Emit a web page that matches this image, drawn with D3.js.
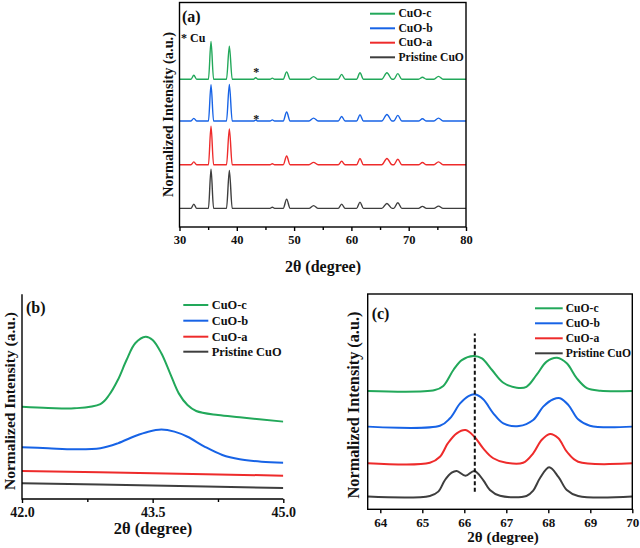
<!DOCTYPE html>
<html><head><meta charset="utf-8">
<script src="https://cdn.jsdelivr.net/npm/d3@7"></script>
<style>
html,body{margin:0;padding:0;background:#fff;}
</style></head>
<body><svg id="chart" width="640" height="548"></svg>
<script>
// ---------- DATA ----------
const seriesNames = ["CuO-c", "CuO-b", "CuO-a", "Pristine CuO"];
const seriesColors = ["#22a85a", "#1763e6", "#ee2b2b", "#3e3e3e"];

// Panel (a): full XRD patterns, peak table
const xrdPeakPos = [32.5, 35.5, 38.7, 43.3, 46.2, 48.7, 53.4, 58.3, 61.5, 66.2, 68.1, 72.4, 75.2];
const xrdHalfWidth = [0.5, 0.45, 0.5, 0.4, 0.4, 0.6, 0.8, 0.6, 0.6, 0.9, 0.7, 0.7, 0.8];
const xrdBaseline = [65.8, 47.2, 27.7, 8.3];             // c, b, a, pristine
const xrdHeightsC = [1.8, 16.8, 14.7, 0.7, 0.5, 3.3, 1.2, 2.2, 2.9, 2.9, 2.5, 0.9, 1.3];
const xrdHeightsB = [1.2, 16.2, 16.3, 0.4, 0.5, 4.0, 1.3, 2.0, 2.8, 2.9, 2.5, 1.0, 1.3];
const xrdHeightsA = [1.3, 17.2, 16.0, 0.0, 0.5, 3.9, 1.1, 1.6, 2.8, 2.8, 2.5, 1.0, 1.3];
const xrdHeightsP = [1.9, 17.5, 16.9, 0.0, 0.5, 4.1, 1.2, 1.9, 2.8, 2.2, 2.5, 0.9, 1.0];
const xrdTicks = [30, 40, 50, 60, 70, 80];
const xrdMinorTicks = [35, 45, 55, 65, 75];
const cuStars = [[43.4, 70.2], [43.4, 49.5]];

// Panel (b): 42-45 degree zoom (Cu peak)
const bC = [[42.0,45.1],[42.3,44.5],[42.6,44.3],[42.9,46.4],[43.0,50.8],[43.1,58.1],[43.2,67.9],[43.3,76.1],[43.42,79.3],[43.5,77.7],[43.6,71.2],[43.7,61.4],[43.8,51.6],[43.9,45.9],[44.0,43.0],[44.25,41.0],[44.5,39.9],[45.0,37.8]];
const bB = [[42.0,25.3],[42.3,24.8],[42.6,24.3],[42.9,24.8],[43.1,27.2],[43.3,30.8],[43.45,32.9],[43.6,33.9],[43.75,32.9],[43.9,30.4],[44.1,25.5],[44.3,21.5],[44.5,19.4],[44.75,18.2],[45.0,17.7]];
const bA = [[42.0,13.7],[43.5,12.6],[45.0,11.4]];
const bP = [[42.0,7.7],[43.5,6.6],[45.0,5.4]];
const bTicks = [42.0, 43.5, 45.0];
const bTickLabels = ["42.0", "43.5", "45.0"];
const bMinorTicks = [42.75, 44.25];

// Panel (c): 63.7-70 degree zoom
const cC = [[63.7,55.0],[65.3,55.4],[65.5,57.3],[65.74,64.7],[65.94,69.3],[66.22,71.2],[66.42,70.1],[66.66,64.7],[66.93,58.8],[67.25,56.5],[67.48,56.9],[67.72,62.4],[67.96,68.6],[68.21,70.4],[68.44,67.8],[68.68,60.8],[68.92,56.3],[69.24,55.1],[70.0,55.0]];
const cB = [[63.7,38.4],[65.42,38.8],[65.66,42.3],[65.9,49.2],[66.1,52.6],[66.25,53.4],[66.45,51.1],[66.69,44.6],[66.93,39.9],[67.3,38.7],[67.64,41.5],[67.88,47.7],[68.12,51.1],[68.28,51.6],[68.48,48.4],[68.71,41.8],[68.99,38.8],[70.0,38.4]];
const cA = [[63.7,21.4],[65.18,21.6],[65.42,24.4],[65.61,30.7],[65.82,35.3],[66.03,36.8],[66.24,33.7],[66.45,28.3],[66.69,23.7],[67.0,21.6],[67.4,21.6],[67.64,26.0],[67.84,32.2],[68.04,35.0],[68.24,33.0],[68.44,26.8],[68.71,22.1],[70.0,21.4]];
const cP = [[63.7,5.9],[65.18,6.2],[65.38,8.2],[65.54,13.6],[65.7,17.0],[65.82,17.8],[66.03,15.6],[66.24,17.8],[66.45,13.6],[66.61,9.0],[66.85,6.3],[67.48,6.2],[67.64,8.7],[67.8,14.4],[68.02,19.5],[68.24,15.1],[68.44,9.0],[68.71,6.2],[70.0,5.9]];
const cTicks = [64, 65, 66, 67, 68, 69, 70];
const cDashX = 66.25;
const cDashY = [8.2, 81.7];

// ---------- DRAW ----------
const FONT = "'Liberation Serif', 'Times New Roman', Times, serif";
const svg = d3.select("#chart");
const AXW = 1.4;

function buildXrd(base, heights) {
  const pts = [[30, base]];
  xrdPeakPos.forEach((p, i) => {
    if (heights[i] <= 0) return;
    pts.push([p - xrdHalfWidth[i], base], [p, base + heights[i]], [p + xrdHalfWidth[i], base]);
  });
  pts.push([80, base]);
  return pts;
}

function txt(parent) {
  return parent.append("text").attr("font-family", FONT).attr("font-weight", "bold").attr("fill", "#111");
}

function fitText(sel, target) {
  const n = sel.node();
  const fs = parseFloat(sel.attr("font-size"));
  const len = n.getComputedTextLength();
  if (len > 0) sel.attr("font-size", (fs * target / len).toFixed(2));
}

function drawPanel(cfg) {
  const g = svg.append("g");
  const x = d3.scaleLinear().domain(cfg.xd).range([cfg.l, cfg.r]);
  const y = d3.scaleLinear().domain([0, 100]).range([cfg.b, cfg.t]);
  const line = d3.line().x(d => x(d[0])).y(d => y(d[1])).curve(cfg.curve);

  const cid = "clip" + cfg.id;
  svg.append("clipPath").attr("id", cid).append("rect")
    .attr("x", cfg.l).attr("y", cfg.t).attr("width", cfg.r - cfg.l).attr("height", cfg.b - cfg.t);

  const lg = g.append("g").attr("clip-path", `url(#${cid})`);
  cfg.series.forEach((s, i) => {
    lg.append("path").datum(s).attr("d", line).attr("fill", "none")
      .attr("stroke", seriesColors[i]).attr("stroke-width", cfg.lw).attr("stroke-linejoin", "round");
  });

  const xAxis = d3.axisBottom(x).tickValues(cfg.ticks).tickSize(4).tickPadding(4)
    .tickFormat((d, i) => cfg.tickLabels ? cfg.tickLabels[i] : d);
  const ax = g.append("g").attr("transform", `translate(0,${cfg.b})`).call(xAxis);
  ax.attr("font-family", FONT);
  ax.select(".domain").remove();
  ax.selectAll(".tick line").attr("stroke", "#000").attr("stroke-width", AXW);
  ax.selectAll(".tick text").attr("font-size", cfg.tickFs).attr("fill", "#111")
    .attr("font-family", FONT).attr("font-weight", "bold");
  if (cfg.minor) {
    const mx = d3.axisBottom(x).tickValues(cfg.minor).tickSize(3).tickFormat("");
    const mg = g.append("g").attr("transform", `translate(0,${cfg.b})`).call(mx);
    mg.select(".domain").remove();
    mg.selectAll(".tick line").attr("stroke", "#000").attr("stroke-width", AXW);
  }
  if (cfg.box) {
    g.append("rect").attr("x", cfg.l).attr("y", cfg.t).attr("width", cfg.r - cfg.l).attr("height", cfg.b - cfg.t)
      .attr("fill", "none").attr("stroke", "#000").attr("stroke-width", AXW);
  } else {
    g.append("path").attr("d", `M${cfg.l},${cfg.t}V${cfg.b}H${cfg.r}`)
      .attr("fill", "none").attr("stroke", "#000").attr("stroke-width", AXW);
  }

  txt(g).attr("x", cfg.xtX).attr("y", cfg.xtY).attr("text-anchor", "middle")
    .attr("dominant-baseline", "central").attr("font-size", cfg.xtFs).text("2θ (degree)");
  const yt = txt(g).attr("transform", `translate(${cfg.ytX},${cfg.ytY}) rotate(-90)`)
    .attr("text-anchor", "middle").attr("dominant-baseline", "central").attr("font-size", 15)
    .text("Normalized Intensity (a.u.)");
  fitText(yt, cfg.ytLen);

  txt(g).attr("x", cfg.pl[0]).attr("y", cfg.pl[1]).attr("dominant-baseline", "central")
    .attr("font-size", 16).text(cfg.label);

  seriesNames.forEach((nm, i) => {
    const yy = cfg.leg.rows[i];
    g.append("line").attr("x1", cfg.leg.x1).attr("x2", cfg.leg.x2).attr("y1", yy).attr("y2", yy)
      .attr("stroke", seriesColors[i]).attr("stroke-width", 2);
    txt(g).attr("x", cfg.leg.tx).attr("y", yy).attr("dominant-baseline", "central")
      .attr("font-size", cfg.leg.fs).text(nm);
  });
  return { g, x, y };
}

// Panel (a)
const pa = drawPanel({
  id: "a", xd: [30, 80], l: 179.5, r: 466, t: 2.5, b: 227, lw: 1.4, box: true, curve: d3.curveMonotoneX,
  series: [buildXrd(xrdBaseline[0], xrdHeightsC), buildXrd(xrdBaseline[1], xrdHeightsB),
           buildXrd(xrdBaseline[2], xrdHeightsA), buildXrd(xrdBaseline[3], xrdHeightsP)],
  ticks: xrdTicks, minor: xrdMinorTicks, tickFs: 12.5,
  xtX: 323, xtY: 266, xtFs: 16, ytX: 167.5, ytY: 114.5, ytLen: 165,
  pl: [182, 16], label: "(a)",
  leg: { x1: 370, x2: 395, tx: 398.5, rows: [13.7, 28.3, 42.7, 57.3], fs: 11.6 }
});
txt(pa.g).attr("x", 181).attr("y", 38).attr("dominant-baseline", "central")
  .attr("font-size", 12).text("* Cu");
cuStars.forEach(d => {
  txt(pa.g).attr("x", pa.x(d[0])).attr("y", pa.y(d[1])).attr("dy", 7)
    .attr("text-anchor", "middle").attr("font-size", 12).text("*");
});

// Panel (b)
drawPanel({
  id: "b", xd: [42, 45], l: 22, r: 283.3, t: 294.3, b: 499, lw: 2, box: false, curve: d3.curveCatmullRom.alpha(0.5),
  series: [bC, bB, bA, bP],
  ticks: bTicks, tickLabels: bTickLabels, minor: bMinorTicks, tickFs: 14,
  xtX: 153, xtY: 528, xtFs: 16.5, ytX: 9, ytY: 401, ytLen: 178,
  pl: [26, 307], label: "(b)",
  leg: { x1: 183.3, x2: 208.3, tx: 211.7, rows: [305, 320.7, 336.7, 351.7], fs: 12.4 }
});

// Panel (c)
const pc = drawPanel({
  id: "c", xd: [63.7, 70], l: 367.7, r: 632.3, t: 294, b: 509.3, lw: 2, box: true, curve: d3.curveCatmullRom.alpha(0.5),
  series: [cC, cB, cA, cP],
  ticks: cTicks, tickFs: 13,
  xtX: 503, xtY: 537, xtFs: 15, ytX: 353.5, ytY: 405, ytLen: 187,
  pl: [371.7, 313.3], label: "(c)",
  leg: { x1: 535, x2: 562.7, tx: 565.7, rows: [308.3, 323.3, 338.3, 353.3], fs: 11.6 }
});
pc.g.append("line").attr("x1", pc.x(cDashX)).attr("x2", pc.x(cDashX))
  .attr("y1", pc.y(cDashY[0])).attr("y2", pc.y(cDashY[1]))
  .attr("stroke", "#111").attr("stroke-width", 2).attr("stroke-dasharray", "4,2.5");
</script></body></html>
